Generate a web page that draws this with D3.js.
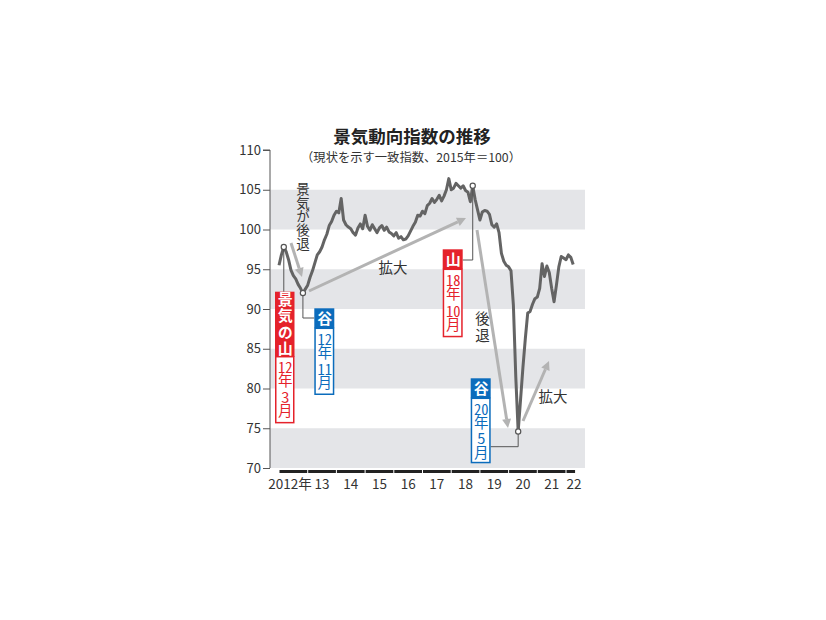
<!DOCTYPE html>
<html><head><meta charset="utf-8">
<script src="https://cdn.jsdelivr.net/npm/d3@7"></script>
<style>
body{margin:0;background:#fff;position:relative}
svg{display:block}
text{font-family:"Noto Sans CJK JP","Noto Sans",sans-serif}
.vt{position:absolute;writing-mode:vertical-rl;text-orientation:mixed;white-space:nowrap;
  font-family:"Noto Sans CJK JP","Noto Sans",sans-serif;text-align:start;margin:0;padding:0}
.vt .tcy{text-combine-upright:all}
</style>
</head><body>
<svg id="c" width="826" height="620"></svg>
<script>
// monthly coincident index, Jan 2012 .. Apr 2022
const values = [
 95.5,96.8,97.8,97.2,96.2,94.9,94.2,93.8,93.1,92.6,92.0,92.5,
 93.0,94.0,94.8,95.8,96.8,97.2,97.8,98.7,99.4,100.5,101.0,101.8,
 102.3,102.1,103.9,101.2,100.6,100.3,100.1,99.6,99.3,100.2,100.7,100.1,
 101.8,100.4,99.9,100.6,100.1,99.6,100.2,100.5,99.9,100.3,99.7,99.5,
 99.2,99.6,98.9,99.1,98.7,98.8,99.2,99.8,100.4,100.9,101.8,101.7,
 102.3,102.0,103.0,103.3,103.9,103.4,103.8,104.3,103.6,104.2,105.0,106.4,
 105.0,105.2,105.8,105.5,105.2,105.5,104.9,104.7,103.5,105.5,103.8,102.5,
 101.2,102.2,102.4,102.3,101.9,100.6,100.3,100.7,99.6,97.0,96.0,95.5,
 95.3,94.8,90.5,81.5,74.6,78.6,82.7,86.3,89.5,89.7,90.6,91.3,
 91.5,92.6,95.7,94.1,95.4,94.6,92.6,90.9,93.0,95.3,96.6,96.4,
 96.2,96.8,96.5,95.6
];
const xLabels = ["2012年","13","14","15","16","17","18","19","20","21","22"];
const yTicks = [70,75,80,85,90,95,100,105,110];
const bands = [[70,75],[80,85],[90,95],[100,105]];
const turns = [
  {i:2, kind:"山", label:["12","年","3","月"], head:"景気の山"},
  {i:10, kind:"谷", label:["12","年","11","月"], head:"谷"},
  {i:81, kind:"山", label:["18","年","10","月"], head:"山"},
  {i:100, kind:"谷", label:["20","年","5","月"], head:"谷"}
];
const RED="#e5222b", BLUE="#0b6cbc";

const svg = d3.select("#c");
const x = d3.scaleLinear().domain([0,120]).range([279,566]);
const y = d3.scaleLinear().domain([70,110]).range([468,150]);
const plotL = 270, plotR = 585;

// bands
svg.selectAll("rect.band").data(bands).join("rect")
  .attr("x",plotL).attr("width",plotR-plotL)
  .attr("y",d=>y(d[1])).attr("height",d=>y(d[0])-y(d[1]))
  .attr("fill","#e4e5e8");

// y axis
const yAxis = d3.axisLeft(y).tickValues(yTicks).tickSize(7).tickPadding(2);
const ga = svg.append("g").attr("transform",`translate(${plotL},0)`).call(yAxis);
ga.select(".domain").attr("stroke","#555").attr("d",`M-7,${y(110)}H0V${y(70)}`);
ga.selectAll(".tick line").attr("stroke","#555");
ga.selectAll(".tick text").attr("font-size",13).attr("fill","#333")
  .attr("font-family","'Noto Sans CJK JP',sans-serif");

// x axis segments
const years = d3.range(xLabels.length);
svg.selectAll("rect.seg").data(years).join("rect")
  .attr("x",d=>x(d*12)+0.5)
  .attr("width",d=>(d===10? x(124)-x(120) : x(12)-x(0)) - 1)
  .attr("y",470).attr("height",3).attr("fill","#222");
svg.selectAll("text.xl").data(xLabels).join("text")
  .attr("x",(d,i)=> i===0 ? 290 : (i===10 ? 574 : (x(i*12)+x(i*12+12))/2))
  .attr("y",489).attr("text-anchor","middle").attr("font-size",13.5).attr("fill","#333")
  .text(d=>d);

// title
svg.append("text").attr("x",412).attr("y",143).attr("text-anchor","middle")
  .attr("font-size",17.5).attr("font-weight","bold").attr("fill","#222").text("景気動向指数の推移");
svg.append("text").attr("x",411).attr("y",162).attr("text-anchor","middle")
  .attr("font-size",12.3).attr("fill","#333").text("（現状を示す一致指数、2015年＝100）");

// arrows
function arrow(x1,y1,x2,y2){
  const a=Math.atan2(y2-y1,x2-x1), L=9, W=4.5;
  const bx=x2-L*Math.cos(a), by=y2-L*Math.sin(a);
  svg.append("line").attr("x1",x1).attr("y1",y1).attr("x2",bx).attr("y2",by)
    .attr("stroke","#b3b3b3").attr("stroke-width",3);
  const p=[[x2,y2],[bx+W*Math.sin(a),by-W*Math.cos(a)],[bx-W*Math.sin(a),by+W*Math.cos(a)]];
  svg.append("polygon").attr("points",p.map(q=>q.join(",")).join(" ")).attr("fill","#b3b3b3");
}
arrow(291,243,302,277);
arrow(309,291,466,218);
arrow(477,230,508,428);
arrow(523,421,549,361);

// vertical text (HTML, vertical writing mode); parts: array of strings, digits combined upright
function vtext(cx, top, step, parts, size, color, weight){
  const w = 24;
  const ls = Math.max(0, step - size);
  const d = d3.select("body").append("div").attr("class","vt")
    .style("left",(cx - w/2)+"px").style("top",(top + ls/2)+"px")
    .style("width",w+"px").style("line-height",w+"px")
    .style("font-size",size+"px").style("letter-spacing",ls+"px")
    .style("color",color||"#333").style("font-weight",weight||"normal");
  parts.forEach(p=>{
    if(/^[0-9]+$/.test(p)) d.append("span").attr("class","tcy").text(p);
    else d.append("span").text(p);
  });
  return d;
}
vtext(303,182,13.8,["景気が後退"],13.5);
vtext(482,309.5,17,["後退"],14.5);
svg.append("text").attr("x",393).attr("y",273).attr("text-anchor","middle").attr("font-size",14.5).attr("fill","#333").text("拡大");
svg.append("text").attr("x",553).attr("y",402).attr("text-anchor","middle").attr("font-size",14.5).attr("fill","#333").text("拡大");

// line
svg.append("path").datum(values)
  .attr("d",d3.line().x((d,i)=>x(i)).y(d=>y(d)))
  .attr("fill","none").attr("stroke","#646464").attr("stroke-width",3).attr("stroke-linejoin","round");

// tags
const tagPos = [
  {bx:275, w:19.5, hTop:291.7, hH:65, bH:66.7, leader:(px,py)=>`M${px},${py}V291.7`},
  {bx:314.3, w:20, hTop:308.3, hH:20, bH:66.7, leader:(px,py)=>`M${px},${py}V318H314.3`},
  {bx:442.7, w:20, hTop:249.3, hH:20, bH:68, leader:(px,py)=>`M${px},${py}V260H462.7`},
  {bx:470.7, w:20, hTop:378.3, hH:20, bH:65, leader:(px,py)=>`M${px},${py}V446.7H490.7`}
];
turns.forEach((t,k)=>{
  const p = tagPos[k], col = t.kind==="山"?RED:BLUE;
  const px = x(t.i), py = y(values[t.i]);
  svg.append("path").attr("d",p.leader(px,py)).attr("fill","none").attr("stroke","#555").attr("stroke-width",1);
  svg.append("rect").attr("x",p.bx).attr("y",p.hTop).attr("width",p.w).attr("height",p.hH).attr("fill",col);
  const hs = p.hH/t.head.length;
  vtext(p.bx+p.w/2, p.hTop, hs, [t.head], 15, "#fff", "bold");
  svg.append("rect").attr("x",p.bx+0.75).attr("y",p.hTop+p.hH).attr("width",p.w-1.5).attr("height",p.bH-0.75)
    .attr("fill","#fff").attr("stroke",col).attr("stroke-width",1.5);
  const bs = (p.bH-4)/t.label.length;
  vtext(p.bx+p.w/2, p.hTop+p.hH+2, bs, t.label, 14.5, col);
  svg.append("circle").attr("cx",px).attr("cy",py).attr("r",2.6)
    .attr("fill","#fff").attr("stroke","#555").attr("stroke-width",1.2);
});
</script>
</body></html>
